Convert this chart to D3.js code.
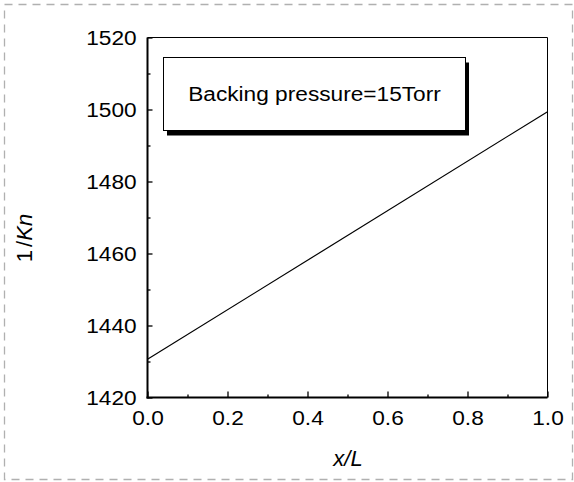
<!DOCTYPE html>
<html>
<head>
<meta charset="utf-8">
<script src="https://cdn.jsdelivr.net/npm/d3@7"></script>
<style>
  html, body { margin: 0; padding: 0; background: #fff; }
  svg { display: block; font-family: "Liberation Sans", Arial, sans-serif; }
</style>
</head>
<body>
<svg id="chart" width="574" height="482"></svg>
<script>
// Line data: inverse Knudsen number along the normalized length
const xValues = [0.0, 1.0];
const invKn = [1430.6, 1499.4];

// Axis ranges and tick labels
const xDomain = [0, 1];
const yDomain = [1420, 1520];
const xMajorTicks = [0.0, 0.2, 0.4, 0.6, 0.8, 1.0];
const xMinorTicks = [0.1, 0.3, 0.5, 0.7, 0.9];
const yMajorTicks = [1420, 1440, 1460, 1480, 1500, 1520];
const yMinorTicks = [1430, 1450, 1470, 1490, 1510];

const legendText = "Backing pressure=15Torr";

const svg = d3.select("#chart");
const m = { left: 147.5, right: 547.5, top: 37.5, bottom: 397.5 };

const x = d3.scaleLinear().domain(xDomain).range([m.left, m.right]);
const y = d3.scaleLinear().domain(yDomain).range([m.bottom, m.top]);

// Dashed outer frame
svg.append("rect")
  .attr("x", 4.5).attr("y", 4.5)
  .attr("width", 568).attr("height", 475)
  .attr("fill", "none")
  .attr("stroke", "#b0b0b0")
  .attr("stroke-width", 1.3)
  .attr("stroke-dasharray", "8,6");

// Plot frame: thin top/right
svg.append("line").attr("x1", m.left).attr("x2", m.right).attr("y1", m.top).attr("y2", m.top)
  .attr("stroke", "#000").attr("stroke-width", 1);
svg.append("line").attr("x1", m.right).attr("x2", m.right).attr("y1", m.top).attr("y2", m.bottom)
  .attr("stroke", "#000").attr("stroke-width", 1);

// Bottom axis with inward ticks
const xAxis = svg.append("g").attr("transform", `translate(0,${m.bottom})`)
  .call(d3.axisBottom(x).tickValues(xMajorTicks).tickSize(-6).tickPadding(13)
    .tickFormat(d3.format(".1f")));
xAxis.select(".domain").remove();
xAxis.selectAll(".tick line").attr("stroke-width", 1.3);
xAxis.selectAll(".tick text").attr("font-size", 21).attr("fill", "#000")
  .attr("font-family", "Liberation Sans, Arial, sans-serif")
  .attr("transform", "scale(1.08,1)");
svg.append("g").attr("transform", `translate(0,${m.bottom})`)
  .call(d3.axisBottom(x).tickValues(xMinorTicks).tickSize(-3).tickFormat(""))
  .call(g => g.select(".domain").remove())
  .selectAll(".tick line").attr("stroke-width", 1.3);

// Left axis with inward ticks
const yAxis = svg.append("g").attr("transform", `translate(${m.left},0)`)
  .call(d3.axisLeft(y).tickValues(yMajorTicks).tickSize(-5).tickPadding(10)
    .tickFormat(d3.format("d")));
yAxis.select(".domain").remove();
yAxis.selectAll(".tick line").attr("stroke-width", 1.3);
yAxis.selectAll(".tick text").attr("font-size", 21).attr("fill", "#000")
  .attr("font-family", "Liberation Sans, Arial, sans-serif")
  .attr("transform", "scale(1.08,1)");
svg.append("g").attr("transform", `translate(${m.left},0)`)
  .call(d3.axisLeft(y).tickValues(yMinorTicks).tickSize(-3).tickFormat(""))
  .call(g => g.select(".domain").remove())
  .selectAll(".tick line").attr("stroke-width", 1.3);

// Thick left/bottom axis lines
svg.append("line").attr("x1", m.left).attr("x2", m.left).attr("y1", m.top).attr("y2", m.bottom + 1)
  .attr("stroke", "#000").attr("stroke-width", 2);
svg.append("line").attr("x1", m.left - 1).attr("x2", m.right).attr("y1", m.bottom).attr("y2", m.bottom)
  .attr("stroke", "#000").attr("stroke-width", 2);

// Data line
const pts = xValues.map((v, i) => [v, invKn[i]]);
svg.append("path")
  .datum(pts)
  .attr("fill", "none")
  .attr("stroke", "#000")
  .attr("stroke-width", 1.2)
  .attr("d", d3.line().x(d => x(d[0])).y(d => y(d[1])));

// Legend box with drop shadow
const lb = { x: 163.5, y: 57.5, w: 302, h: 73 };
svg.append("rect")
  .attr("x", lb.x + 3.5).attr("y", lb.y + 5)
  .attr("width", lb.w).attr("height", lb.h)
  .attr("fill", "#000");
svg.append("rect")
  .attr("x", lb.x).attr("y", lb.y)
  .attr("width", lb.w).attr("height", lb.h)
  .attr("fill", "#fff").attr("stroke", "#000").attr("stroke-width", 1);
svg.append("text")
  .attr("x", lb.x + lb.w / 2).attr("y", 101)
  .attr("text-anchor", "middle")
  .attr("font-size", 21)
  .attr("fill", "#000")
  .attr("transform", `translate(${(lb.x + lb.w / 2)},0) scale(1.08,1) translate(${-(lb.x + lb.w / 2)},0)`)
  .text(legendText);

// Axis titles
svg.append("text")
  .attr("x", 348).attr("y", 466)
  .attr("text-anchor", "middle")
  .attr("font-size", 22)
  .attr("font-style", "italic")
  .text("x/L");

const yt = svg.append("text")
  .attr("transform", "translate(32,238) rotate(-90)")
  .attr("text-anchor", "middle")
  .attr("font-size", 22);
yt.append("tspan").text("1");
yt.append("tspan").attr("dx", 3).text("/");
yt.append("tspan").attr("font-style", "italic").text("Kn");
</script>
</body>
</html>
